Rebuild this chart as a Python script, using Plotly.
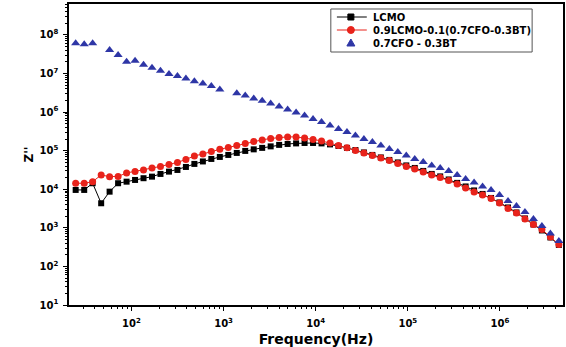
import plotly.graph_objects as go

# Frequency (Hz)
freq = [24.8, 30.7, 37.9, 46.9, 57.9, 71.6, 88.5, 109.4, 135.2, 167.1,
        206.5, 255.3, 315.5, 389.9, 481.9, 595.7, 736.2, 909.9, 1124.7, 1390,
        1718, 2123, 2624, 3243, 4009, 4955, 6124, 7568, 9354, 11561,
        14289, 17660, 21827, 26977, 33343, 41210, 50933, 62951, 77804, 96161,
        118850, 146893, 181551, 224388, 277332, 342768, 423643, 523600, 647143, 799834,
        988553, 1221800, 1510080, 1866380, 2306740, 2851000, 3523700, 4355100]

# Z'' for LCMO
z_lcmo = [9.59e3, 9.59e3, 1.43e4, 4.33e3, 8.65e3, 1.43e4, 1.57e4, 1.74e4, 1.93e4, 2.12e4,
          2.49e4, 2.86e4, 3.16e4, 3.78e4, 4.53e4, 5.25e4, 6.10e4, 6.87e4, 7.74e4, 8.73e4,
          9.84e4, 1.08e5, 1.18e5, 1.29e5, 1.41e5, 1.49e5, 1.54e5, 1.58e5, 1.58e5, 1.54e5,
          1.45e5, 1.32e5, 1.18e5, 1.04e5, 8.99e4, 7.74e4, 6.67e4, 5.74e4, 4.95e4, 4.14e4,
          3.56e4, 2.98e4, 2.49e4, 2.15e4, 1.79e4, 1.46e4, 1.18e4, 9.31e3, 7.55e3, 5.94e3,
          4.54e3, 3.37e3, 2.50e3, 1.75e3, 1.22e3, 855, 562, 360]

# Z'' for 0.9LCMO-0.1(0.7CFO-0.3BT)
z_comp = [1.43e4, 1.43e4, 1.57e4, 2.34e4, 2.12e4, 2.15e4, 2.64e4, 2.89e4, 3.16e4, 3.56e4,
          3.90e4, 4.40e4, 4.95e4, 5.92e4, 7.29e4, 8.22e4, 9.55e4, 1.08e5, 1.21e5, 1.36e5,
          1.54e5, 1.73e5, 1.90e5, 2.07e5, 2.20e5, 2.27e5, 2.27e5, 2.14e5, 1.95e5, 1.79e5,
          1.58e5, 1.36e5, 1.18e5, 1.01e5, 8.73e4, 7.52e4, 6.47e4, 5.58e4, 4.67e4, 3.90e4,
          3.36e4, 2.81e4, 2.34e4, 2.02e4, 1.69e4, 1.37e4, 1.08e4, 8.51e3, 7.11e3, 5.77e3,
          4.41e3, 3.18e3, 2.43e3, 1.70e3, 1.22e3, 906, 579, 371]

# Z'' for 0.7CFO - 0.3BT (None = no point)
z_cfo = [6.10e7, 5.74e7, 6.10e7, None, 4.08e7, 3.03e7, 2.00e7, 2.12e7, 1.67e7, 1.40e7,
         1.17e7, 9.75e6, 8.65e6, 7.45e6, 6.24e6, 5.53e6, 4.76e6, 3.86e6, None, 3.05e6,
         2.70e6, 2.26e6, 1.95e6, 1.67e6, 1.40e6, 1.17e6, 9.80e5, 8.19e5, 6.64e5, 5.56e5,
         4.51e5, 3.66e5, 3.05e5, 2.48e5, 2.01e5, 1.68e5, 1.36e5, 1.11e5, 9.27e4, 7.52e4,
         6.10e4, 5.10e4, 4.14e4, 3.56e4, 2.98e4, 2.34e4, 1.85e4, 1.50e4, 1.18e4, 9.59e3,
         7.11e3, 4.97e3, 3.69e3, 2.58e3, 1.70e3, 1.12e3, 714, 456]

series_names = ["LCMO", "0.9LCMO-0.1(0.7CFO-0.3BT)", "0.7CFO - 0.3BT"]
series_colors = ["black", "#e8231b", "#2e36a6"]

x_tickvals = [1e2, 1e3, 1e4, 1e5, 1e6]
x_ticktext = ["<b>10<sup>2</sup></b>", "<b>10<sup>3</sup></b>", "<b>10<sup>4</sup></b>",
              "<b>10<sup>5</sup></b>", "<b>10<sup>6</sup></b>"]
y_tickvals = [1e1, 1e2, 1e3, 1e4, 1e5, 1e6, 1e7, 1e8]
y_ticktext = ["<b>10<sup>%d</sup></b>" % k for k in range(1, 9)]

FONT = "DejaVu Sans, Arial, sans-serif"

fig = go.Figure()
fig.add_trace(go.Scatter(x=freq, y=z_lcmo, mode="lines+markers", name=series_names[0],
                         line=dict(color=series_colors[0], width=1),
                         marker=dict(symbol="square", size=6, color=series_colors[0])))
fig.add_trace(go.Scatter(x=freq, y=z_comp, mode="lines+markers", name=series_names[1],
                         line=dict(color=series_colors[1], width=1),
                         marker=dict(symbol="circle", size=7, color=series_colors[1])))
fig.add_trace(go.Scatter(x=freq, y=z_cfo, mode="markers", name=series_names[2],
                         marker=dict(symbol="triangle-up", size=8, color=series_colors[2])))

axis_common = dict(showline=True, linecolor="black", linewidth=1.5, mirror=True,
                   showgrid=False, zeroline=False, ticks="outside", ticklen=4,
                   tickwidth=1, tickcolor="black",
                   tickfont=dict(family=FONT, size=10, color="black"))

fig.update_xaxes(type="log", range=[1.322, 6.684], tickvals=x_tickvals, ticktext=x_ticktext,
                 ticklabelstandoff=4,
                 minor=dict(ticks="outside", ticklen=2, tickcolor="black", dtick="D1"),
                 title=dict(text="<b>Frequency(Hz)</b>", font=dict(family=FONT, size=14, color="black"),
                            standoff=7),
                 **axis_common)
fig.update_yaxes(type="log", range=[1.0, 8.8], tickvals=y_tickvals, ticktext=y_ticktext,
                 ticklabelstandoff=3,
                 minor=dict(ticks="outside", ticklen=2, tickcolor="black", dtick="D1"),
                 title=dict(text="<b>Z''</b>", font=dict(family=FONT, size=12, color="black"),
                            standoff=3),
                 **axis_common)

# Custom legend (layout decoration): box, sample lines, symbols and labels
leg_x0, leg_x1, leg_y0, leg_y1 = 0.530, 0.9375, 0.8405, 0.9834
row_y = [0.9568, 0.9136, 0.8704]
line_x0, line_x1, sym_x, text_x = 0.5423, 0.6028, 0.5706, 0.6109

shapes = [dict(type="rect", xref="paper", yref="paper", x0=leg_x0, x1=leg_x1, y0=leg_y0, y1=leg_y1,
               line=dict(color="#555555", width=1), fillcolor="white", layer="above")]
annotations = []
for k in range(3):
    ry = row_y[k]
    col = series_colors[k]
    if k < 2:
        shapes.append(dict(type="line", xref="paper", yref="paper", x0=line_x0, x1=line_x1,
                           y0=ry, y1=ry, line=dict(color=col, width=1), layer="above"))
    common = dict(xref="paper", yref="paper", xsizemode="pixel", ysizemode="pixel",
                  xanchor=sym_x, yanchor=ry, fillcolor=col, line=dict(color=col, width=1),
                  layer="above")
    if k == 0:
        shapes.append(dict(type="rect", x0=-3, x1=3, y0=-3, y1=3, **common))
    elif k == 1:
        shapes.append(dict(type="circle", x0=-3.5, x1=3.5, y0=-3.5, y1=3.5, **common))
    else:
        shapes.append(dict(type="path", path="M -4,-3 L 4,-3 L 0,4 Z", **common))
    annotations.append(dict(xref="paper", yref="paper", x=text_x, y=ry, xanchor="left",
                            yanchor="middle", showarrow=False, text="<b>%s</b>" % series_names[k],
                            font=dict(family=FONT, size=10, color="black")))

fig.update_layout(
    width=566, height=347,
    margin=dict(l=69, r=1, t=4, b=42),
    paper_bgcolor="white", plot_bgcolor="white",
    showlegend=False,
    shapes=shapes, annotations=annotations,
)

fig.write_html("out.html")
